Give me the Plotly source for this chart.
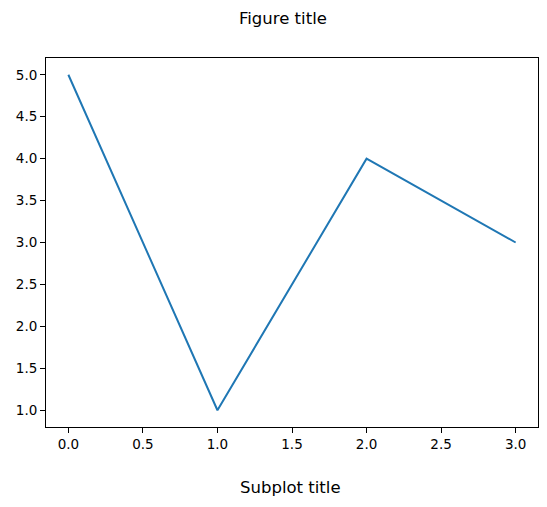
import plotly.graph_objects as go

# data
x_vals = [0, 1, 2, 3]
y_vals = [5, 1, 4, 3]
x_ticks = [0.0, 0.5, 1.0, 1.5, 2.0, 2.5, 3.0]
y_ticks = [1.0, 1.5, 2.0, 2.5, 3.0, 3.5, 4.0, 4.5, 5.0]

fig = go.Figure(
    go.Scatter(
        x=x_vals,
        y=y_vals,
        mode="lines",
        line=dict(color="#1f77b4", width=2),
        showlegend=False,
    )
)

axis_style = dict(
    showgrid=False,
    zeroline=False,
    showline=True,
    mirror=True,
    linecolor="black",
    linewidth=1,
    ticks="outside",
    ticklen=5,
    tickcolor="black",
    tickfont=dict(family="DejaVu Sans", size=13.5, color="black"),
)

fig.update_xaxes(
    range=[-0.15, 3.15],
    tickvals=x_ticks,
    ticktext=[f"{v:.1f}" for v in x_ticks],
    **axis_style,
)
fig.update_yaxes(
    range=[0.8, 5.2],
    tickvals=y_ticks,
    ticktext=[f"{v:.1f}" for v in y_ticks],
    **axis_style,
)

fig.add_annotation(
    text="Figure title", x=0.482, y=1.108, xref="paper", yref="paper",
    showarrow=False, xanchor="center", yanchor="middle",
    font=dict(family="DejaVu Sans", size=16.5, color="black"),
)
fig.add_annotation(
    text="Subplot title", x=0.496, y=-0.163, xref="paper", yref="paper",
    showarrow=False, xanchor="center", yanchor="middle",
    font=dict(family="DejaVu Sans", size=16.5, color="black"),
)

# page puts the figure 8px in from the corner, so margins are trimmed to match
fig.update_layout(
    width=539,
    height=499,
    margin=dict(l=35, r=8, t=50, b=80),
    plot_bgcolor="white",
    paper_bgcolor="white",
)

fig.write_html("out.html")
